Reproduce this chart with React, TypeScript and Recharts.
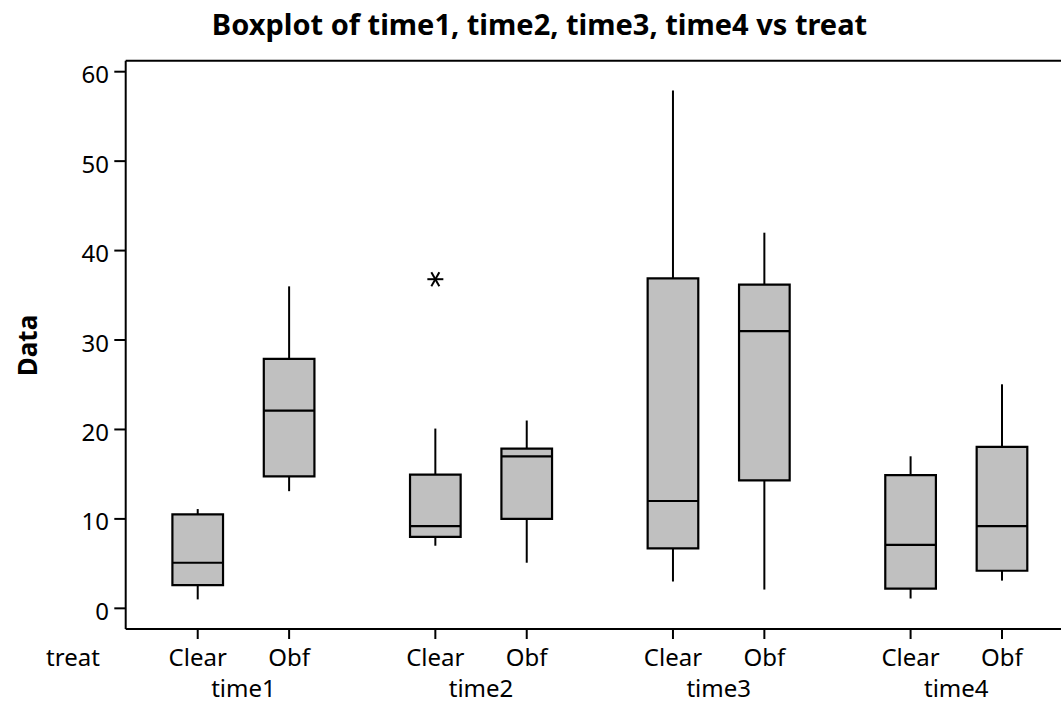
import React from 'react';
import { ComposedChart, XAxis, YAxis, ReferenceArea, ReferenceLine, Scatter } from 'recharts';

// ---- data ----
const groups = ['time1', 'time2', 'time3', 'time4'];
const treats = ['Clear', 'Obf'];
const minVals = [1.0, 13.1, 7.0, 5.1, 3.0, 2.1, 1.1, 3.1];
const q1Vals = [2.6, 14.75, 8.0, 10.0, 6.7, 14.3, 2.2, 4.2];
const medianVals = [5.1, 22.1, 9.2, 17.0, 12.0, 31.0, 7.1, 9.2];
const q3Vals = [10.5, 27.9, 14.95, 17.85, 36.9, 36.2, 14.9, 18.05];
const maxVals = [11.1, 36.0, 20.1, 21.0, 57.9, 42.0, 17.0, 25.05];
const outlierBoxIndex = [2];
const outlierVals = [36.8];
const yTicks = [0, 10, 20, 30, 40, 50, 60];

// ---- layout ----
const GROUP_STEP = 2.6;
const BOX_HALF = 0.277;
const X_DOMAIN: [number, number] = [0.212, 10.588];
const Y_DOMAIN: [number, number] = [-2.31, 61.23];
const FONT = 'Noto Sans';

const boxes = groups.flatMap((g, gi) =>
  treats.map((t, ti) => {
    const i = gi * treats.length + ti;
    return {
      group: g,
      treat: t,
      pos: 1 + gi * GROUP_STEP + ti,
      min: minVals[i],
      q1: q1Vals[i],
      median: medianVals[i],
      q3: q3Vals[i],
      max: maxVals[i],
    };
  })
);

const boxTicks = boxes.map((b) => b.pos);
const groupTicks = groups.map((g, gi) => (boxes[gi * 2].pos + boxes[gi * 2 + 1].pos) / 2);

const treatLabel = (v: number) => {
  const b = boxes.find((bb) => Math.abs(bb.pos - v) < 1e-6);
  return b ? b.treat : '';
};
const groupLabel = (v: number) => {
  const i = groupTicks.findIndex((gt) => Math.abs(gt - v) < 1e-6);
  return i >= 0 ? groups[i] : '';
};

const outlierData = outlierBoxIndex.map((bi, k) => ({ x: boxes[bi].pos, y: outlierVals[k] }));

const Asterisk = (props: any) => {
  const { cx, cy } = props;
  const r = 8;
  const dx = r * 0.5;
  const dy = r * 0.866;
  return (
    <g stroke="#000" strokeWidth={2}>
      <line x1={cx - r} y1={cy} x2={cx + r} y2={cy} />
      <line x1={cx - dx} y1={cy - dy} x2={cx + dx} y2={cy + dy} />
      <line x1={cx + dx} y1={cy - dy} x2={cx - dx} y2={cy + dy} />
    </g>
  );
};

const YTick = (props: any) => {
  const { x, y, payload } = props;
  return (
    <text x={x} y={y + 11.5} textAnchor="end" fontFamily={FONT} fontSize={24} fill="#000">
      {payload.value}
    </text>
  );
};

export default function App() {
  return (
    <div style={{ position: 'absolute', left: 0, top: 0, width: 1061, height: 704, overflow: 'hidden', background: '#fff' }}>
      <ComposedChart
        width={1100}
        height={704}
        margin={{ top: 60.7, right: 26, bottom: 0, left: 55.7 }}
      >
        <XAxis
          dataKey="x"
          type="number"
          domain={X_DOMAIN}
          allowDataOverflow
          ticks={boxTicks}
          interval={0}
          tickFormatter={treatLabel}
          height={40}
          tickSize={10}
          tickMargin={10}
          axisLine={{ stroke: '#000', strokeWidth: 2 }}
          tickLine={{ stroke: '#000', strokeWidth: 2 }}
          tick={{ fill: '#000', fontSize: 24, fontFamily: FONT }}
        />
        <XAxis
          xAxisId="grp"
          dataKey="x"
          type="number"
          domain={X_DOMAIN}
          allowDataOverflow
          ticks={groupTicks}
          interval={0}
          tickFormatter={groupLabel}
          height={35}
          tickSize={0}
          tickMargin={10.5}
          axisLine={false}
          tickLine={false}
          tick={{ fill: '#000', fontSize: 24, fontFamily: FONT }}
        />
        <YAxis
          type="number"
          domain={Y_DOMAIN}
          allowDataOverflow
          ticks={yTicks}
          interval={0}
          width={70}
          tickSize={11.4}
          tickMargin={5.3}
          axisLine={{ stroke: '#000', strokeWidth: 2 }}
          tickLine={{ stroke: '#000', strokeWidth: 2 }}
          tick={<YTick />}
        />
        <ReferenceLine y={Y_DOMAIN[1]} stroke="#000" strokeWidth={2} />
        <ReferenceLine x={X_DOMAIN[1]} stroke="#000" strokeWidth={2} />
        {boxes.map((b, i) => (
          <ReferenceLine
            key={'wu' + i}
            segment={[{ x: b.pos, y: b.q3 }, { x: b.pos, y: b.max }]}
            stroke="#000"
            strokeWidth={2}
          />
        ))}
        {boxes.map((b, i) => (
          <ReferenceLine
            key={'wl' + i}
            segment={[{ x: b.pos, y: b.min }, { x: b.pos, y: b.q1 }]}
            stroke="#000"
            strokeWidth={2}
          />
        ))}
        {boxes.map((b, i) => (
          <ReferenceArea
            key={'box' + i}
            x1={b.pos - BOX_HALF}
            x2={b.pos + BOX_HALF}
            y1={b.q1}
            y2={b.q3}
            fill="#c0c0c0"
            fillOpacity={1}
            stroke="#000"
            strokeWidth={2.2}
            zIndex={300}
          />
        ))}
        {boxes.map((b, i) => (
          <ReferenceLine
            key={'med' + i}
            segment={[{ x: b.pos - BOX_HALF, y: b.median }, { x: b.pos + BOX_HALF, y: b.median }]}
            stroke="#000"
            strokeWidth={2.2}
            zIndex={400}
          />
        ))}
        <Scatter data={outlierData} dataKey="y" shape={<Asterisk />} isAnimationActive={false} />
      </ComposedChart>
      <svg
        width={1061}
        height={704}
        style={{ position: 'absolute', left: 0, top: 0, pointerEvents: 'none' }}
      >
        <text x={539.5} y={34.7} textAnchor="middle" fontFamily={FONT} fontWeight="bold" fontSize={29} fill="#000">
          Boxplot of time1, time2, time3, time4 vs treat
        </text>
        <text
          transform="translate(36.7,345.5) rotate(-90)"
          textAnchor="middle"
          fontFamily={FONT}
          fontWeight="bold"
          fontSize={26}
          fill="#000"
        >
          Data
        </text>
        <text x={73} y={666} textAnchor="middle" fontFamily={FONT} fontSize={24} fill="#000">
          treat
        </text>
      </svg>
    </div>
  );
}
